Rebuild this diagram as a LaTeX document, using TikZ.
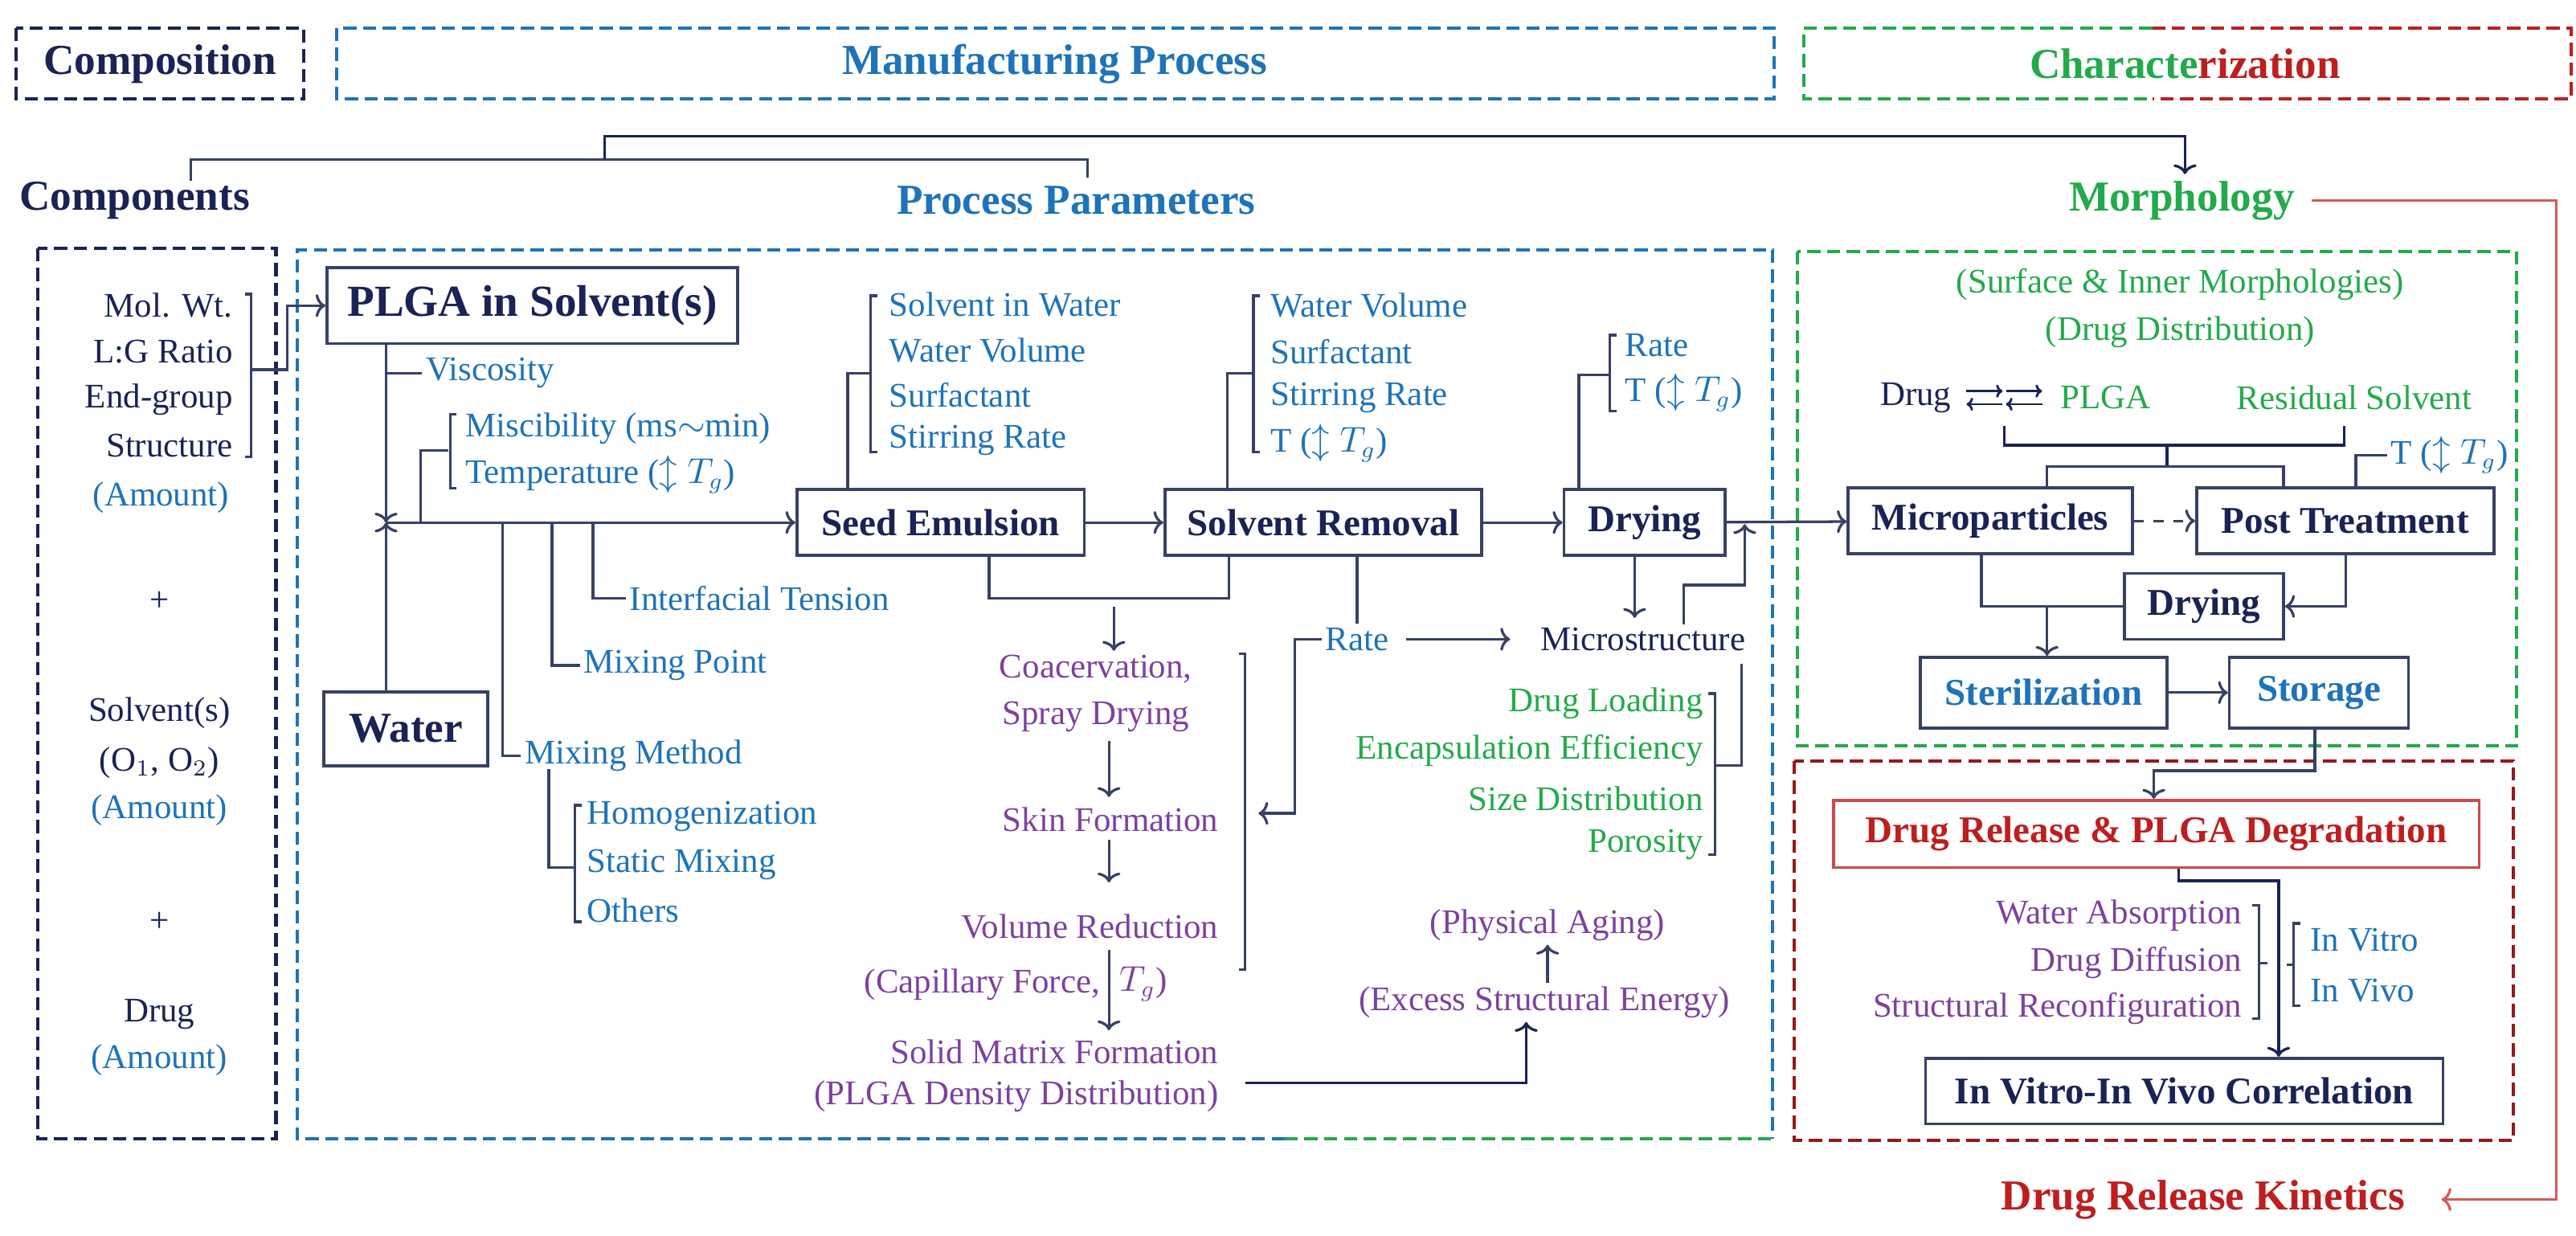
\documentclass[tikz,border=0pt]{standalone}
\usepackage{amssymb}
\usepackage{fontspec}
\setmainfont{Liberation Serif}
\usetikzlibrary{arrows.meta}
\definecolor{navyc}{RGB}{25,35,85}
\definecolor{linec}{RGB}{55,65,100}
\definecolor{bluec}{RGB}{30,115,185}
\definecolor{greenc}{RGB}{35,170,75}
\definecolor{redc}{RGB}{190,30,30}
\definecolor{pinkc}{RGB}{215,90,90}
\definecolor{purpc}{RGB}{125,65,160}
\tikzset{
  head/.style={font=\bfseries\fontsize{13}{15}\selectfont, inner sep=1pt},
  box/.style={draw=linec, line width=0.9pt, fill=white, text=navyc, font=\bfseries\fontsize{11.5}{13}\selectfont, minimum height=20pt, inner sep=1pt},
  txt/.style={font=\fontsize{10.5}{12}\selectfont, inner sep=1pt},
  par/.style={txt, text=bluec},
  prp/.style={txt, text=purpc},
  grn/.style={txt, text=greenc},
  dsh/.style={line width=1pt, dash pattern=on 4pt off 2pt},
  conn/.style={draw=linec, line width=0.8pt},
  >={To[length=3pt,width=7pt]}
}
\begin{document}
\begin{tikzpicture}[x=0.5pt,y=-0.5pt]
\useasboundingbox (0,0) rectangle (1568,752);
%header row
\draw[dsh, navyc] (10,17) rectangle (185,60);
\node[head, text=navyc] (hcomp) at (97.5,39) {Composition};
\draw[dsh, bluec] (205,17) rectangle (1080,60);
\node[head, text=bluec] (hman) at (642,39) {Manufacturing Process};
\draw[dsh, greenc] (1310,17) -- (1098,17) -- (1098,60) -- (1310,60);
\draw[dsh, redc] (1310,17) -- (1565,17) -- (1565,60) -- (1310,60);
\node[head] (hchar) at (1330,39) {\textcolor{greenc}{Characte}\textcolor{redc}{rization}};
%
%top brackets
\draw[conn] (116,110) -- (116,97) -- (662,97) -- (662,108);
\draw[conn, draw=navyc, ->] (368,97) -- (368,83) -- (1330,83) -- (1330,106);
\node[head, text=navyc] (tcomp) at (82,122) {Components};
\node[head, text=bluec] (tproc) at (655,122) {Process Parameters};
\node[head, text=greenc] (tmorph) at (1328,122) {Morphology};
\node[head, text=redc] (tkin) at (1341,730) {Drug Release Kinetics};
\draw[pinkc, line width=0.8pt, ->] (tmorph.east) ++(8,0) coordinate (m0) -- (1556,122) -- (1556,730) -- ([xshift=10]tkin.east);
%
%panels
\draw[dsh, navyc] (23,151) rectangle (168,693);
\draw[dsh, bluec] (782,693) -- (181,693) -- (181,152) -- (1079,152) -- (1079,693);
\draw[dsh, greenc] (782,693) -- (1079,693);
\draw[dsh, greenc] (1094,153) rectangle (1532,454);
\draw[dsh, redc!80!black] (1092,463) rectangle (1530,694);
%
%components
\node[txt, text=navyc, anchor=east] (mw) at (144,186) {Mol. Wt.};
\node[txt, text=navyc, anchor=east] (lg) at (144,214) {L:G Ratio};
\node[txt, text=navyc, anchor=east] (eg) at (144,243) {End-group};
\node[txt, text=navyc, anchor=east] (st) at (144,271) {Structure};
\node[par] (am1) at (98,303) {(Amount)};
\node[txt, text=navyc] (pl1) at (97,366) {+};
\node[txt, text=navyc] (sv) at (97,434) {Solvent(s)};
\node[txt, text=navyc] (oo) at (97,464) {(O$_1$, O$_2$)};
\node[par] (am2) at (97,493) {(Amount)};
\node[txt, text=navyc] (pl2) at (97,561) {+};
\node[txt, text=navyc] (dr) at (97,617) {Drug};
\node[par] (am3) at (97,645) {(Amount)};
%
%boxes
\node[box, minimum width=125pt, minimum height=23pt, font=\bfseries\fontsize{13.5}{15}\selectfont] (plga) at (324,186) {PLGA in Solvent(s)};
\node[box, minimum width=50pt, minimum height=22.5pt, font=\bfseries\fontsize{13}{15}\selectfont] (water) at (247,443.5) {Water};
\node[box, minimum width=87.5pt] (seed) at (572.5,318) {Seed Emulsion};
\node[box, minimum width=96.5pt] (srem) at (805.5,318) {Solvent Removal};
\node[box, minimum width=49pt] (dry) at (1001,318) {Drying};
\node[box, minimum width=86.5pt] (mp) at (1211.5,317) {Microparticles};
\node[box, minimum width=90.5pt] (post) at (1427.5,317) {Post Treatment};
\node[box, minimum width=48.5pt] (dry2) at (1341.5,369) {Drying};
\node[box, minimum width=75pt, minimum height=21.5pt, text=bluec] (ster) at (1244,421.5) {Sterilization};
\node[box, minimum width=54.5pt, minimum height=21.5pt, text=bluec] (stor) at (1411.5,421.5) {Storage};
\node[box, minimum width=196.5pt, minimum height=20.5pt, draw=redc!80, text=redc] (drpd) at (1312.5,507.5) {Drug Release \& PLGA Degradation};
\node[box, minimum width=157.5pt] (ivivc) at (1329.5,664) {In Vitro-In Vivo Correlation};
%
%component bracket
\draw[conn] (149,179) -- (153,179) -- (153,278) -- (149,278);
\draw[conn, ->] (153,225) -- (175,225) -- (175,186) -- (plga.west);
%
%mixing
\coordinate (mix) at (235,318);
\draw[conn, ->] (plga.south -| mix) -- (mix);
\draw[conn, ->] (water.north -| mix) -- (mix);
\draw[conn, ->] (mix) -- (seed.west);
\node[par, anchor=west] (visc) at (257,227) {Viscosity};
\draw[conn] (235,227) -- (visc.west);
\node[par, anchor=west] (misc) at (281,261) {Miscibility (ms$\sim$min)};
\node[par, anchor=west] (temp) at (281,289) {Temperature ($\updownarrow T_g$)};
\draw[conn] (256,318) -- (256,274) -- (273,274);
\draw[conn] (278,252) -- (274,252) -- (274,297) -- (278,297);
\node[par, anchor=west] (itens) at (381,364) {Interfacial Tension};
\draw[conn] (361,318) -- (361,364) -- (itens.west);
\node[par, anchor=west] (mpoint) at (353,405) {Mixing Point};
\draw[conn] (336,318) -- (336,405) -- (mpoint.west);
\node[par, anchor=west] (mmeth) at (317,460) {Mixing Method};
\draw[conn] (306,318) -- (306,460) -- (mmeth.west);
\node[par, anchor=west] (homo) at (355,497) {Homogenization};
\node[par, anchor=west] (stat) at (355,526) {Static Mixing};
\node[par, anchor=west] (oth) at (355,554) {Others};
\draw[conn] (334,468) -- (334,528) -- (350,528);
\draw[conn] (354,490) -- (350,490) -- (350,561) -- (354,561);
%
%seed parameters
\foreach \t [count=\i] in {Solvent in Water, Water Volume, Surfactant, Stirring Rate}
  \node[par, anchor=west] (sp\i) at (539,{158+27.5*\i}) {\t};
\draw[conn] (516,298) -- (516,227) -- (530,227);
\draw[conn] (534,180) -- (530,180) -- (530,275) -- (534,275);
%solvent removal parameters
\node[par, anchor=west] (rp1) at (771,186) {Water Volume};
\node[par, anchor=west] (rp2) at (771,214) {Surfactant};
\node[par, anchor=west] (rp3) at (771,242) {Stirring Rate};
\node[par, anchor=west] (rp4) at (771,270) {T ($\updownarrow T_g$)};
\draw[conn] (747,298) -- (747,227) -- (763,227);
\draw[conn] (767,180) -- (763,180) -- (763,275) -- (767,275);
%drying parameters
\node[par, anchor=west] (dp1) at (987,210) {Rate};
\node[par, anchor=west] (dp2) at (987,239) {T ($\updownarrow T_g$)};
\draw[conn] (961,298) -- (961,228) -- (980,228);
\draw[conn] (984,204) -- (980,204) -- (980,250) -- (984,250);
%
%main flow
\draw[conn, ->] (seed) -- (srem);
\draw[conn, ->] (srem) -- (dry);
\draw[conn, ->] (dry) -- (mp);
\draw[conn, ->, dashed] (mp) -- (post);
%
%particle formation
\node[prp] (coac) at (667,407) {Coacervation,};
\node[prp] (spray) at (667,436) {Spray Drying};
\node[prp, anchor=east] (skin) at (744,499) {Skin Formation};
\node[prp, anchor=east] (vred) at (744,564) {Volume Reduction};
\node[prp, anchor=east] (capf) at (672,599) {(Capillary Force,};
\node[prp, anchor=west] (tgl) at (679,599) {$T_g$)};
\node[prp, anchor=east] (smf) at (744,640) {Solid Matrix Formation};
\node[prp, anchor=east] (pdd) at (744,667) {(PLGA Density Distribution)};
\draw[conn] (602,338) -- (602,364) -- (748,364) -- (748,338);
\draw[conn, ->] (678,369) -- (coac.north -| 678,0);
\draw[conn, ->] (675,451) -- (675,485);
\draw[conn, ->] (675,511) -- (675,537);
\draw[conn, ->] (675,578) -- (675,627);
\draw[conn] (754,398) -- (758,398) -- (758,590) -- (754,590);
%rate and microstructure
\node[par] (rate) at (826,389) {Rate};
\node[txt, text=navyc] (micro) at (1000,389) {Microstructure};
\draw[conn] (srem.south -| rate) -- (rate.north);
\draw[conn, ->] (rate.west) -- (788,389) -- (788,495) -- (766,495);
\draw[conn, ->] (rate.east) ++(8,0) -- ([xshift=-8]micro.west);
\draw[conn, ->] (dry.south -| 995,0) -- (995,376);
\draw[conn, ->] (1025,380) -- (1025,356) -- (1062,356) -- (1062,319);
\node[grn, anchor=east] (dl) at (1039,428) {Drug Loading};
\node[grn, anchor=east] (ee) at (1039,457) {Encapsulation Efficiency};
\node[grn, anchor=east] (sd) at (1039,486) {Size Distribution};
\node[grn, anchor=east] (por) at (1039,514) {Porosity};
\draw[conn] (1060,404) -- (1060,466) -- (1044,466);
\draw[conn] (1040,422) -- (1044,422) -- (1044,520) -- (1040,520);
\node[prp] (aging) at (942,563) {(Physical Aging)};
\node[prp] (exse) at (940,610) {(Excess Structural Energy)};
\draw[conn, ->] (exse.north -| aging) -- (aging.south);
\draw[conn, draw=navyc, ->] (758,659) -- (929,659) -- (exse.south -| 929,0);
%
%morphology panel
\node[grn] (surf) at (1327,173) {(Surface \& Inner Morphologies)};
\node[grn] (ddis) at (1327,202) {(Drug Distribution)};
\node[txt, text=navyc, anchor=east] (drug) at (1190,242) {Drug};
\node[grn, anchor=west] (plgb) at (1252,242) {PLGA};
\foreach \xa in {1197,1221} {
  \draw[navyc, line width=0.7pt, -{To[length=2pt,width=4pt]}] (\xa,238) -- ++(22,0);
  \draw[navyc, line width=0.7pt, {To[length=2pt,width=4pt]}-] (\xa,246) -- ++(22,0);
}
\node[grn] (resid) at (1433,242) {Residual Solvent};
\draw[conn, draw=navyc] (1220,259) -- (1220,271) -- (1427,271) -- (1427,259);
\draw[conn, draw=navyc] (1319,271) -- (1319,284);
\draw[conn] (1246,297) -- (1246,284) -- (1390,284) -- (1390,297);
\node[par, anchor=west] (ptt) at (1453,277) {T ($\updownarrow T_g$)};
\draw[conn] (1434,297) -- (1434,277) -- (ptt.west);
\draw[conn, ->] (post.south -| 1428,0) -- (1428,369) -- (dry2.east);
\draw[conn] (mp.south -| 1206,0) -- (1206,369) -- (dry2.west);
\draw[conn, ->] (1246,369) -- (ster.north -| 1246,0);
\draw[conn, ->] (ster) -- (stor);
%
%release panel
\draw[conn, ->] (stor.south -| 1409,0) -- (1409,469) -- (1311,469) -- (drpd.north -| 1311,0);
\node[prp, anchor=east] (wabs) at (1367,557) {Water Absorption};
\node[prp, anchor=east] (ddif) at (1367,586) {Drug Diffusion};
\node[prp, anchor=east] (srec) at (1367,614) {Structural Reconfiguration};
\draw[conn] (1371,551) -- (1375,551) -- (1375,620) -- (1371,620);
\draw[conn] (1375,586) -- (1380,586);
\node[par, anchor=west] (vitro) at (1404,572) {In Vitro};
\node[par, anchor=west] (vivo) at (1404,603) {In Vivo};
\draw[conn] (1400,562) -- (1396,562) -- (1396,612) -- (1400,612);
\draw[conn] (1392,587) -- (1396,587);
\draw[conn, draw=navyc, ->] (drpd.south -| 1326,0) -- (1326,536) -- (1387,536) -- (ivivc.north -| 1387,0);
\end{tikzpicture}
\end{document}
